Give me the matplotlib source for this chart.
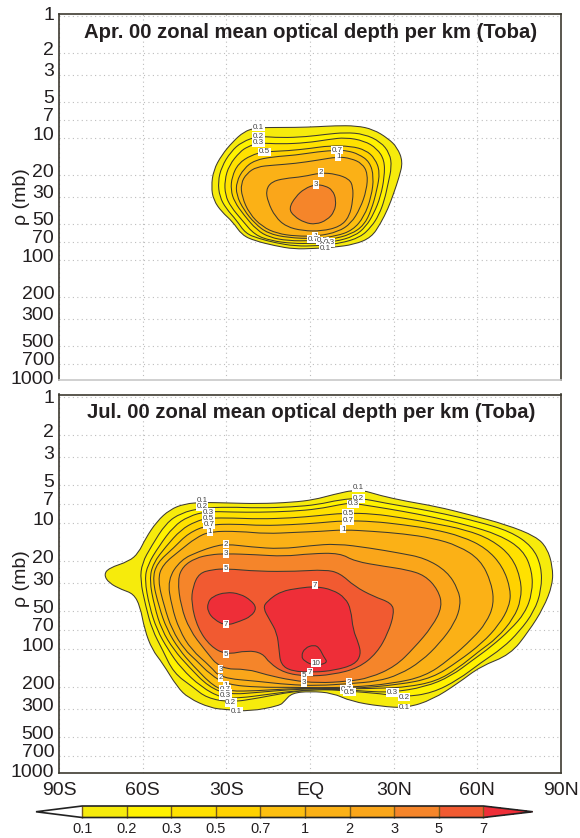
import matplotlib
matplotlib.use("Agg")
import matplotlib.pyplot as plt
import matplotlib as mpl
from matplotlib.colors import ListedColormap, BoundaryNorm
from matplotlib.path import Path
from matplotlib.patches import PathPatch

plt.rcParams['font.family'] = ['Liberation Sans', 'DejaVu Sans']

# ---------- data ----------
levels = [0.1, 0.2, 0.3, 0.5, 0.7, 1, 2, 3, 5, 7]
level_labels = ['0.1', '0.2', '0.3', '0.5', '0.7', '1', '2', '3', '5', '7']
level_colors = ['#F6EB0C', '#FFF200', '#FFE100', '#FFD200', '#FDBF10',
                '#FBB116', '#FAA61A', '#F5852A', '#F15A31', '#EE2E38']
pressure_ticks = [1, 2, 3, 5, 7, 10, 20, 30, 50, 70, 100, 200, 300, 500, 700, 1000]
lat_ticks = [-90, -60, -30, 0, 30, 60, 90]
lat_labels = ['90S', '60S', '30S', 'EQ', '30N', '60N', '90N']

# contours: (latitude in degrees, log10 of pressure in mb)
apr_01 = [(-15.5,.91),(-5.2,.91),(2.8,.904),(8.8,.896),(16.7,.896),(22.7,.926),(28,1.0),(31.3,1.074),(33.3,1.191),(32,1.314),(30,1.451),(28,1.574),(25.3,1.697),(22,1.811),(16,1.869),(8.1,1.893),(1.5,1.902),(-5.8,1.907),(-12.5,1.88),(-19.8,1.839),(-24.4,1.792),(-27.7,1.683),(-31.7,1.601),(-34.6,1.505),(-35.4,1.396),(-34.6,1.26),(-31.7,1.137),(-27.7,1.027),(-23.7,.945),(-19.8,.915)]
apr_02 = [(-18.4,.981),(-10.5,.995),(-1.2,.986),(5.4,.967),(12.7,.951),(19.4,.964),(25.3,1.027),(28.6,1.123),(29.3,1.232),(28,1.369),(26.7,1.505),(24.7,1.628),(22,1.724),(18,1.811),(10.7,1.861),(2.8,1.88),(-5.2,1.883),(-12.5,1.855),(-18.4,1.82),(-23.1,1.779),(-26.4,1.669),(-30.1,1.574),(-32.4,1.478),(-33,1.355),(-31.7,1.232),(-28.4,1.109),(-24.4,1.027)]
apr_03 = [(-18.4,1.036),(-10.5,1.046),(-1.2,1.036),(6.8,1.008),(12.7,.992),(19.4,1.019),(24,1.082),(26.7,1.178),(26.7,1.314),(25.3,1.478),(22.9,1.615),(20,1.724),(16,1.801),(8.8,1.847),(1.5,1.861),(-6.5,1.861),(-13.8,1.839),(-19.8,1.792),(-24.4,1.669),(-28.4,1.56),(-30.4,1.464),(-30.6,1.342),(-29,1.219),(-25.1,1.109),(-22.4,1.068)]
apr_05 = [(-16.4,1.109),(-7.8,1.101),(.1,1.082),(6.8,1.06),(14.7,1.063),(20,1.096),(23.3,1.164),(25.1,1.273),(24,1.423),(22,1.587),(19.4,1.71),(14.7,1.787),(7.4,1.828),(.8,1.839),(-7.8,1.839),(-14.5,1.811),(-19.1,1.751),(-23.7,1.628),(-27.1,1.519),(-28.4,1.423),(-28,1.314),(-25.7,1.205),(-21.1,1.137)]
apr_07 = [(9.7,1.096),(2.8,1.109),(-5.2,1.137),(-13.1,1.15),(-19.8,1.178),(-23.7,1.246),(-26.4,1.355),(-26.4,1.464),(-23.7,1.587),(-19.8,1.697),(-15.1,1.779),(-7.8,1.814),(1.5,1.822),(9.4,1.801),(15.4,1.751),(19.4,1.642),(22,1.478),(22.9,1.314),(21.4,1.191),(17.4,1.128),(13.4,1.101)]
apr_1 = [(10.1,1.15),(2.8,1.178),(-5.2,1.205),(-13.1,1.219),(-19.1,1.232),(-22.7,1.287),(-24.8,1.369),(-24.4,1.478),(-21.8,1.615),(-17.1,1.724),(-11.8,1.779),(-5.2,1.801),(2.8,1.801),(10.1,1.765),(14.7,1.697),(18,1.574),(20.3,1.423),(20.7,1.287),(18.7,1.205),(14.7,1.164)]
apr_2 = [(3.8,1.281),(-2.5,1.314),(-9.2,1.328),(-13.8,1.355),(-15.8,1.423),(-15.1,1.519),(-12.5,1.642),(-8.5,1.724),(-2.5,1.757),(4.1,1.76),(10.7,1.724),(14.1,1.642),(15.4,1.505),(15.4,1.396),(14.1,1.333),(9.4,1.292)]
apr_3 = [(2.1,1.377),(-1.9,1.41),(-5.2,1.478),(-7.6,1.574),(-5.8,1.637),(-1.9,1.691),(2.1,1.705),(6.1,1.669),(8.8,1.601),(9.4,1.505),(8.1,1.423),(5.4,1.388)]

jul_01 = [(-45,.847),(-38.3,.836),(-29,.841),(-18.4,.847),(-6.5,.836),(1.5,.815),(8.1,.775),(17.4,.73),(25.3,.783),(34.6,.828),(45.2,.868),(57.2,.934),(70.4,1.013),(81,1.106),(85,1.198),(87,1.344),(87,1.489),(83.7,1.675),(78.4,1.86),(71.8,2.045),(61.1,2.138),(53.2,2.27),(43.9,2.402),(34.6,2.468),(25.3,2.455),(14.7,2.415),(8.1,2.349),(.1,2.336),(-6.5,2.349),(-9.2,2.415),(-10.9,2.45),(-21.6,2.495),(-30,2.481),(-35.7,2.468),(-43.6,2.389),(-47.6,2.302),(-52.9,2.111),(-56.6,2.005),(-59.3,1.847),(-60.9,1.661),(-63.3,1.561),(-67.5,1.529),(-72.1,1.476),(-73.9,1.41),(-72.1,1.357),(-64.9,1.304),(-61.5,1.238),(-58.9,1.119),(-54.9,.987),(-50.3,.894)]
jul_02 = [(-39,.881),(-29,.873),(-18.4,.881),(-6.5,.873),(2.8,.854),(10.7,.815),(18,.802),(26.7,.841),(37.3,.881),(47.9,.926),(59.8,.987),(71.8,1.066),(79.7,1.185),(83,1.344),(83,1.529),(80.4,1.701),(75.1,1.86),(69.1,1.992),(61.1,2.111),(53.2,2.243),(43.9,2.349),(33.7,2.381),(25.3,2.354),(14.7,2.336),(8.1,2.323),(.1,2.323),(-9.2,2.349),(-18.4,2.389),(-28.4,2.423),(-37,2.389),(-42,2.302),(-48.9,2.19),(-52.9,2.005),(-56.6,1.847),(-58.9,1.661),(-60.9,1.45),(-60.2,1.317),(-56.9,1.185),(-51.6,1.0),(-46.3,.921)]
jul_03 = [(-37,.907),(-27.7,.913),(-18.4,.915),(-6.5,.907),(2.8,.889),(10.7,.854),(14.7,.841),(22.7,.868),(33.3,.907),(43.9,.952),(55.8,1.013),(67.8,1.093),(76.4,1.212),(79.7,1.384),(79.7,1.556),(77.1,1.714),(71.8,1.847),(65.1,1.979),(58.5,2.085),(50.5,2.217),(41.2,2.302),(29.3,2.344),(20,2.336),(13.4,2.323),(5.4,2.32),(-5.2,2.331),(-15.8,2.362),(-25.1,2.389),(-31.7,2.389),(-39,2.302),(-46.3,2.151),(-50.9,2.005),(-54.9,1.847),(-57.6,1.661),(-59.3,1.45),(-58.2,1.331),(-54.2,1.185),(-48.9,1.026),(-43.6,.947)]
jul_05 = [(-36.3,.96),(-27.7,.96),(-18.4,.968),(-6.5,.96),(2.8,.942),(12.1,.921),(22.7,.926),(33.3,.96),(43.9,1.0),(55.8,1.053),(65.1,1.132),(72.4,1.265),(75.7,1.45),(75.7,1.608),(73.1,1.754),(67.1,1.913),(60.5,2.019),(53.2,2.151),(45.2,2.257),(34.6,2.302),(26.7,2.31),(14.7,2.317),(2.8,2.315),(-7.8,2.323),(-18.4,2.344),(-29,2.362),(-36.3,2.302),(-43.6,2.138),(-48.9,2.005),(-53.2,1.847),(-55.8,1.661),(-57.6,1.45),(-56.2,1.317),(-51.6,1.185),(-46.3,1.053),(-41,.987)]
jul_07 = [(-36.3,1.013),(-26.4,1.008),(-17.1,1.021),(-6.5,1.013),(2.8,1.0),(12.1,.981),(22.7,.987),(33.3,1.013),(43.9,1.048),(54.5,1.106),(63.1,1.198),(69.1,1.344),(72,1.529),(71.5,1.661),(67.8,1.807),(61.8,1.952),(53.2,2.098),(43.9,2.23),(32,2.283),(14.7,2.315),(2.8,2.312),(-7.8,2.315),(-18.4,2.331),(-29,2.336),(-34.4,2.302),(-42.3,2.124),(-46.9,2.005),(-51.3,1.847),(-54.2,1.661),(-56.5,1.45),(-54.9,1.317),(-48.9,1.198),(-43.6,1.079)]
jul_1 = [(-35.9,1.066),(-25.1,1.066),(-15.8,1.085),(-5.2,1.074),(4.1,1.066),(12.1,1.053),(22.7,1.066),(33.3,1.085),(43.9,1.119),(53.2,1.18),(61.1,1.291),(65.1,1.476),(66,1.648),(63.1,1.794),(58.5,1.913),(49.9,2.085),(41.2,2.217),(29.3,2.275),(14.7,2.304),(2.8,2.307),(-7.8,2.304),(-18.4,2.304),(-29.7,2.283),(-35.7,2.204),(-41,2.085),(-45,2.005),(-49.5,1.847),(-52.3,1.661),(-54.6,1.45),(-52.9,1.331),(-46.3,1.212),(-41,1.119)]
jul_2 = [(-30.1,1.167),(-21.1,1.19),(-10.5,1.206),(.1,1.18),(9.4,1.164),(21.4,1.198),(32,1.238),(41.2,1.278),(49.2,1.384),(53.2,1.529),(54.1,1.648),(51.9,1.794),(46.6,1.952),(39.9,2.098),(32,2.204),(24,2.257),(14.1,2.275),(2.8,2.291),(-7.8,2.283),(-18.4,2.257),(-32.1,2.23),(-35.7,2.138),(-42.6,2.005),(-46.9,1.847),(-49.6,1.661),(-51.1,1.45),(-46.3,1.291),(-39.7,1.225),(-34.4,1.185)]
jul_3 = [(-30.1,1.243),(-19.8,1.251),(-9.2,1.265),(.1,1.243),(10.7,1.238),(16,1.304),(26.7,1.344),(34.6,1.37),(41.2,1.415),(45.9,1.529),(47.5,1.661),(43.9,1.82),(37.3,1.992),(30.6,2.138),(21.4,2.23),(13.4,2.257),(2.8,2.27),(-6.5,2.249),(-15.8,2.204),(-22.4,2.159),(-32.1,2.159),(-37.8,2.005),(-43.2,1.847),(-46.3,1.661),(-47.5,1.45),(-45.6,1.344),(-41,1.278),(-35.7,1.251)]
jul_5 = [(-30.1,1.362),(-18.4,1.384),(-5.2,1.384),(5.4,1.37),(10.7,1.397),(16,1.503),(22.7,1.582),(29.3,1.635),(30.2,1.714),(28,1.873),(24,2.032),(17.4,2.151),(8.1,2.204),(-1.2,2.217),(-9.2,2.19),(-14.5,2.111),(-17.1,2.032),(-22.4,2.011),(-30.1,2.045),(-35.7,1.979),(-40.3,1.833),(-42.6,1.635),(-42,1.503),(-39.7,1.397),(-35,1.37)]
jul_7_south = [(-30.1,1.548),(-25.1,1.561),(-21.1,1.614),(-19.1,1.675),(-21.1,1.741),(-25.1,1.78),(-30.1,1.815),(-34.4,1.767),(-36.7,1.701),(-36.7,1.635),(-35,1.582)]
jul_7_main = [(1.9,1.503),(8.1,1.529),(12.7,1.595),(14.7,1.688),(15.4,1.847),(17.4,1.952),(18.3,2.045),(16,2.124),(8.8,2.169),(1.5,2.185),(-6.5,2.177),(-10.5,2.124),(-11.1,2.005),(-11.8,1.873),(-14.5,1.767),(-16.8,1.675),(-15.5,1.622),(-10.5,1.542),(-3.8,1.516)]
jul_10 = [(1.5,1.966),(3.4,1.992),(4.8,2.058),(6.5,2.111),(1.5,2.132),(-1.9,2.098),(-3.2,2.058),(-1.9,1.992)]

# contour labels: (text, latitude, log10 pressure)
apr_notes = [('0.1',-18.4,.907),('0.2',-18.4,.981),('0.3',-18.4,1.036),('0.5',-16.4,1.109),('0.7',9.7,1.096),('1',10.1,1.15),('2',3.8,1.281),('3',2.1,1.377),
             ('1',1.9,1.801),('0.7',1.2,1.825),('0.5',4.5,1.839),('0.3',6.8,1.852),('0.2',5.4,1.88),('0.1',5.4,1.902)]
jul_notes = [('0.1',-38.7,.823),('0.2',-38.7,.868),('0.3',-36.3,.913),('0.5',-36.3,.966),('0.7',-36.3,1.013),('1',-35.9,1.066),('2',-30.1,1.167),('3',-30.1,1.243),('5',-30.1,1.357),
             ('7',1.9,1.492),('7',-30.1,1.802),('5',-30.1,2.04),('3',-32.1,2.159),('2',-32.1,2.23),('1',-30.1,2.291),('0.7',-30.4,2.323),('0.5',-30.4,2.35),('0.3',-30.4,2.37),('0.2',-28.4,2.423),('0.1',-26.4,2.495),
             ('0.1',17.4,.722),('0.2',17.4,.807),('0.3',15.4,.849),('0.5',13.7,.926),('0.7',13.7,.981),('1',11.9,1.048),
             ('10',2.1,2.111),('7',.1,2.183),('5',-2.1,2.212),('3',-2.1,2.265),('2',14.1,2.262),('1',14.1,2.304),('0.7',13.1,2.323),('0.5',14.1,2.343),
             ('0.3',29.6,2.344),('0.2',33.7,2.381),('0.1',33.7,2.468)]

apr_contours = [(apr_01,0),(apr_02,1),(apr_03,2),(apr_05,3),(apr_07,4),(apr_1,5),(apr_2,6),(apr_3,7)]
jul_contours = [(jul_01,0),(jul_02,1),(jul_03,2),(jul_05,3),(jul_07,4),(jul_1,5),(jul_2,6),(jul_3,7),(jul_5,8),(jul_7_south,9),(jul_7_main,9),(jul_10,9)]

W, H = 580, 838
fig = plt.figure(figsize=(W/100, H/100), dpi=100)

def axes_px(left, top, right, bottom):
    return fig.add_axes([left/W, 1-bottom/H, (right-left)/W, (bottom-top)/H])

LINE = '#3d3a30'
TEXT = '#231f20'

def contour_path(pts):
    # closed smooth path through the read points (quadratic segments between midpoints)
    v = [(a, 10**b) for a, b in pts]
    n = len(v)
    mid = lambda i: ((v[i][0]+v[(i+1) % n][0])/2, 10**((pts[i][1]+pts[(i+1) % n][1])/2))
    verts, codes = [mid(n-1)], [Path.MOVETO]
    for i in range(n):
        verts += [v[i], mid(i)]
        codes += [Path.CURVE3, Path.CURVE3]
    return Path(verts, codes)

def panel(box, contours, notes, title, title_y, label_y, show_x):
    ax = axes_px(*box)
    ax.set_yscale('log')
    ax.set_xlim(-90, 90)
    ax.set_ylim(955, 0.955)
    ax.set_yticks(pressure_ticks[:-1])
    ax.set_yticklabels([])
    ax.yaxis.set_minor_locator(mpl.ticker.NullLocator())
    ax.set_xticks(lat_ticks)
    ax.set_xticklabels(lat_labels if show_x else [], fontsize=14, color=TEXT)
    ax.tick_params(length=0, pad=6.5)
    ax.grid(True, color='#bdbdbd', lw=0.8, ls=(0, (1, 3)))
    ax.set_axisbelow(True)
    for s in ax.spines.values():
        s.set_color(LINE); s.set_linewidth(1.2)
    if not show_x:
        ax.spines['bottom'].set_color('#c8c8c8')
    for pts, idx in contours:
        ax.add_patch(PathPatch(contour_path(pts), facecolor=level_colors[idx], edgecolor=LINE, lw=0.75, zorder=2))
    for txt, la, lp in notes:
        ax.text(la, 10**lp, txt, fontsize=5.8, color='#444444', ha='center', va='center', zorder=4,
                bbox=dict(facecolor='white', edgecolor='none', pad=0.5))
    for tick in pressure_ticks:
        dy = 2
        if tick == 1:
            dy = 1 if show_x is False else -1
        ax.annotate(str(tick), xy=(0, tick), xycoords=('axes fraction', 'data'), xytext=(-3.5, dy),
                    textcoords='offset points', ha='right', va='center', fontsize=14, color=TEXT)
    fig.text(311/W, 1-title_y/H, title, fontsize=14.6, fontweight='bold', color=TEXT, ha='center', va='center')
    fig.text(21/W, 1-label_y/H, '\u03c1 (mb)', fontsize=14, color=TEXT, rotation=90, ha='center', va='center')
    return ax

panel((59, 14, 561, 380), apr_contours, apr_notes, 'Apr. 00 zonal mean optical depth per km (Toba)', 32, 197, False)
panel((59, 394.5, 561, 772.5), jul_contours, jul_notes, 'Jul. 00 zonal mean optical depth per km (Toba)', 413, 579, True)

cax = axes_px(36, 806, 532.7, 817.5)
cmap = ListedColormap(level_colors[:-1])
cmap.set_under('white'); cmap.set_over(level_colors[-1])
norm = BoundaryNorm(levels, cmap.N)
cb = mpl.colorbar.ColorbarBase(cax, cmap=cmap, norm=norm, orientation='horizontal', extend='both',
                               extendfrac=[0.115, 0.123], spacing='uniform', ticks=levels, drawedges=True)
cb.ax.set_xticklabels(level_labels, fontsize=10.5, color=TEXT)
cb.ax.tick_params(length=0, pad=3)
cb.ax.minorticks_off()
cb.dividers.set_color('#7a5a1a'); cb.dividers.set_linewidth(1)
cb.outline.set_edgecolor('#222222'); cb.outline.set_linewidth(1.2)

fig.savefig('out.png', dpi=100)
